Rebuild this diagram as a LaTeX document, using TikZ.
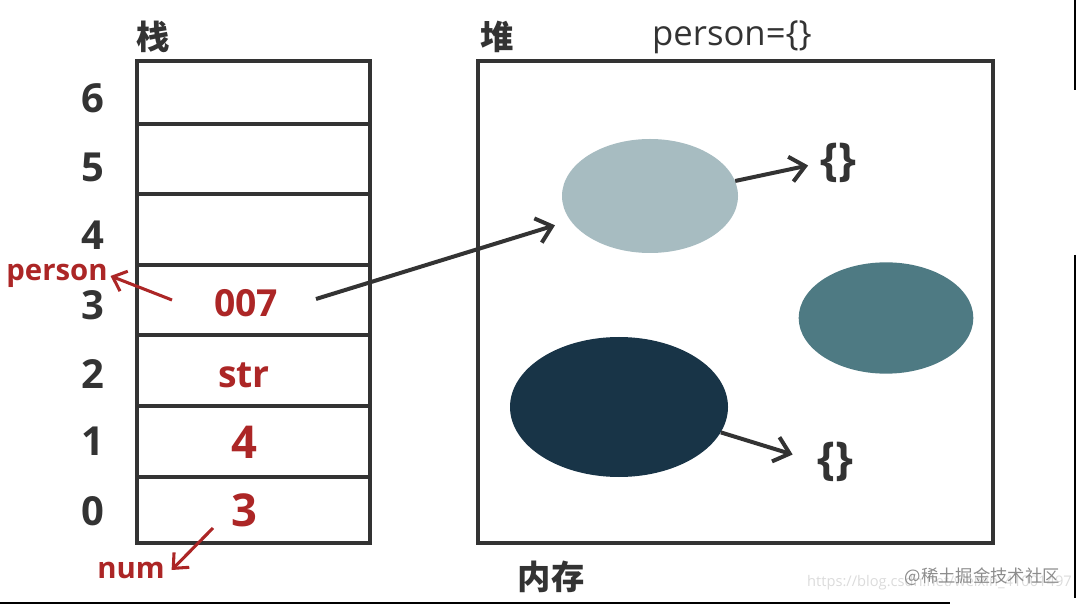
\documentclass[tikz,border=0pt]{standalone}
\usepackage{fontspec}
\setmainfont{Open Sans}
\newfontfamily\cjk{Noto Sans CJK SC}
\usetikzlibrary{arrows.meta,shapes.geometric}
\definecolor{ink}{RGB}{51,51,51}
\definecolor{redv}{RGB}{172,38,38}
\definecolor{ellA}{RGB}{167,188,193}
\definecolor{ellB}{RGB}{78,122,131}
\definecolor{ellC}{RGB}{24,52,71}
\begin{document}
\begin{tikzpicture}[x=0.75pt,y=-0.75pt,
  box/.style={draw=ink,line width=2.4pt},
  idx/.style={font=\bfseries\fontsize{30}{30}\selectfont,text=ink,inner sep=0pt},
  val/.style={font=\bfseries\fontsize{28}{28}\selectfont,text=redv,inner sep=0pt},
  bigval/.style={font=\bfseries\fontsize{34}{34}\selectfont,text=redv,inner sep=0pt},
  title/.style={font=\cjk\bfseries\fontsize{25}{25}\selectfont,text=ink,inner sep=0pt},
  redlbl/.style={font=\bfseries\fontsize{22}{22}\selectfont,text=redv,inner sep=2pt},
  brace/.style={font=\bfseries\fontsize{34}{34}\selectfont,text=ink,inner sep=0pt},
  blob/.style={ellipse,draw=none,inner sep=0pt},
  blkarr/.style={draw=ink,line width=3pt,-{Straight Barb[length=11pt,width=19pt]}},
  redarr/.style={draw=redv,line width=2.3pt,-{Straight Barb[length=9pt,width=16pt]}},
  artifact/.style={draw=black,line width=1.5pt}
]
\useasboundingbox (0,0) rectangle (1077,605);

% stack
\draw[box] (137,61) rectangle (370,543);
\foreach \y in {124,194,265,335,406,477} \draw[box] (137,\y) -- (370,\y);
\node[title] (zhan) at (153,37) {栈};
\node[idx] (i6) at (93,98) {6};
\node[idx] (i5) at (93,167) {5};
\node[idx] (i4) at (93,235) {4};
\node[idx] (i3) at (93,305) {3};
\node[idx] (i2) at (93,374) {2};
\node[idx] (i1) at (93,441) {1};
\node[idx] (i0) at (93,511) {0};

\node[val] (v3) at (246,303) {007};
\node[val] (v2) at (244,375) {str};
\node[bigval] (v1) at (244,442) {4};
\node[bigval] (v0) at (244,510) {3};

\node[redlbl] (lp) at (57,276) {person};
\node[redlbl,inner sep=5pt] (ln) at (131,570) {num};
\coordinate (sp) at (172,300);
\coordinate (sn) at (213,528);
\draw[redarr] (sp) -- (lp.east);
\draw[redarr] (sn) -- (ln.east);

% heap
\draw[box] (478,61) rectangle (993,543);
\node[title] (dui) at (497,37) {堆};
\node[font=\fontsize{26}{26}\selectfont,text=ink,inner sep=0pt] (pe) at (732,37) {person=\{\}};
\node[title] (mem) at (551,577) {内存};

\node[blob,fill=ellA,minimum width=132pt,minimum height=85.5pt] (e1) at (650,196) {};
\node[blob,fill=ellB,minimum width=131pt,minimum height=83.5pt] (e2) at (886,318) {};
\node[blob,fill=ellC,minimum width=163.5pt,minimum height=105pt] (e3) at (619,407) {};

\node[brace] (b1) at (838,163) {\{\}};
\node[brace] (b2) at (835,462) {\{\}};

\coordinate (s007) at (316,299);
\draw[blkarr,shorten >=12pt] (s007) -- (e1);
\draw[blkarr,shorten >=9pt] (e1.10) -- (b1.west);
\draw[blkarr,shorten >=19pt] (e3.-14) -- (b2.west);

% watermark
\node[text=black!14,font=\fontsize{11}{11}\selectfont,anchor=east,inner sep=0pt] (wm1) at (1072,583) {https://blog.csdn.net/weixin\_41001497};
\node[text=black!45,font=\cjk\fontsize{13}{13}\selectfont,anchor=east,inner sep=0pt] (wm2) at (1060,577) {@稀土掘金技术社区};

% screenshot edges
\draw[artifact] (0,603) -- (950,603);
\draw[artifact] (1075,0) -- (1075,90);
\draw[artifact] (1075,255) -- (1075,598);
\end{tikzpicture}
\end{document}
